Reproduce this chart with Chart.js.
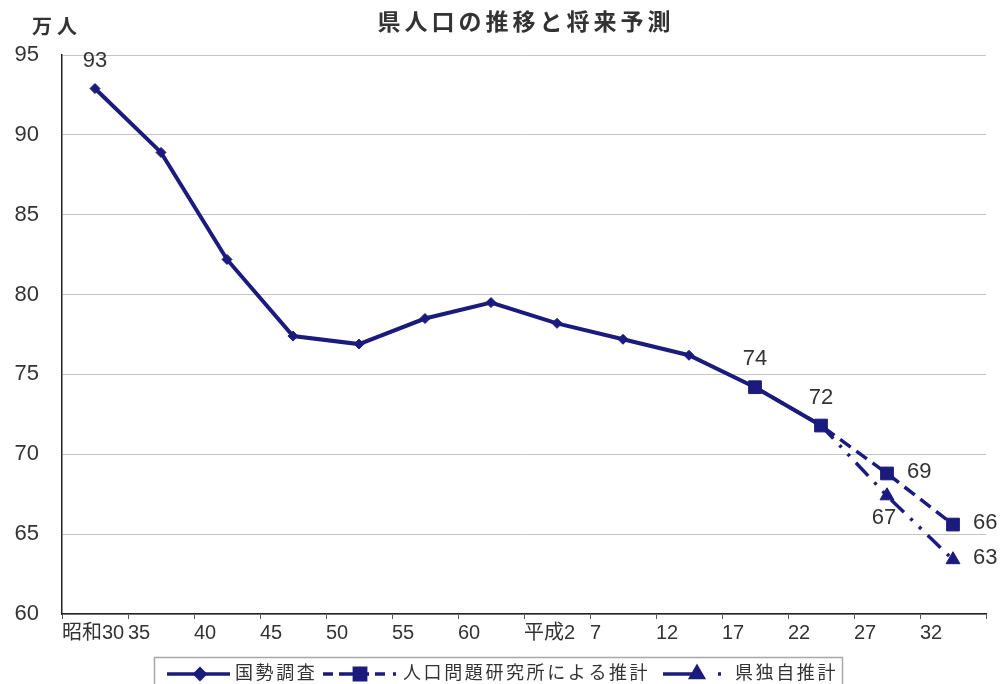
<!DOCTYPE html>
<html lang="ja">
<head>
<meta charset="utf-8">
<title>県人口の推移と将来予測</title>
<script src="https://cdn.jsdelivr.net/npm/chart.js@4.4.1/dist/chart.umd.min.js"></script>
<style>
    html, body { margin: 0; padding: 0; background: #fff; }
    #wrap { width: 1004px; height: 684px; }
</style>
</head>
<body>
<div id="wrap"><canvas id="popChart"></canvas></div>
<script>
// 年次ラベル（昭和30年〜平成32年）
const years = ['昭和30', '35', '40', '45', '50', '55', '60', '平成2', '7', '12', '17', '22', '27', '32'];

// 国勢調査（万人）
const censusValues = [92.9, 88.9, 82.2, 77.4, 76.9, 78.5, 79.5, 78.2, 77.2, 76.2, 74.2, 71.8, null, null];
// 人口問題研究所による推計
const ipssValues = [null, null, null, null, null, null, null, null, null, null, 74.2, 71.8, 68.8, 65.6];
// 県独自推計
const prefValues = [null, null, null, null, null, null, null, null, null, null, null, 71.8, 67.4, 63.4];

const yMin = 60;
const yMax = 95;
const yStep = 5;

const seriesNames = ['国勢調査', '人口問題研究所による推計', '県独自推計'];

// どの点に数値を出すか
const labelPoints = [
    { dataset: 0, index: 0, place: 'above' },
    { dataset: 1, index: 10, place: 'above' },
    { dataset: 1, index: 11, place: 'above' },
    { dataset: 1, index: 12, place: 'right' },
    { dataset: 1, index: 13, place: 'right' },
    { dataset: 2, index: 12, place: 'below' },
    { dataset: 2, index: 13, place: 'right' }
];

const NAVY = '#1b1b7d';
const TEXT = '#333333';
const FONT = '"Liberation Sans", Arial, "Noto Sans CJK JP", sans-serif';
const DASH_IPSS = [13, 7];
const DASH_PREF = [18, 9, 3, 9, 3, 9];

// 数値ラベル・単位・タイトル・凡例
const extrasPlugin = {
    id: 'extras',
    afterDatasetsDraw(chart) {
        const ctx = chart.ctx;
        ctx.save();
        ctx.fillStyle = TEXT;

        // 数値ラベル
        ctx.font = '22px ' + FONT;
        ctx.textBaseline = 'middle';
        labelPoints.forEach(lp => {
            const pt = chart.getDatasetMeta(lp.dataset).data[lp.index];
            const value = chart.data.datasets[lp.dataset].data[lp.index];
            const text = String(Math.round(value));
            if (lp.place === 'above') {
                ctx.textAlign = 'center';
                ctx.fillText(text, pt.x, pt.y - 28);
            } else if (lp.place === 'below') {
                ctx.textAlign = 'center';
                ctx.fillText(text, pt.x - 3, pt.y + 22);
            } else {
                ctx.textAlign = 'left';
                ctx.fillText(text, pt.x + 20, pt.y - 2);
            }
        });
        ctx.restore();
    },
    afterDraw(chart) {
        const ctx = chart.ctx;
        const area = chart.chartArea;
        ctx.save();
        ctx.fillStyle = TEXT;
        ctx.textBaseline = 'middle';

        // 単位
        ctx.font = 'bold 20px ' + FONT;
        ctx.textAlign = 'left';
        ctx.letterSpacing = '5px';
        ctx.fillText('万人', 32, 28);

        // タイトル
        ctx.font = 'bold 23px ' + FONT;
        ctx.letterSpacing = '4px';
        ctx.textAlign = 'center';
        ctx.fillText('県人口の推移と将来予測', (area.left + area.right) / 2 + 2, 24);

        // 凡例
        const top = 657;
        ctx.letterSpacing = '0px';
        ctx.strokeStyle = '#a8a8a8';
        ctx.lineWidth = 1.5;
        ctx.strokeRect(154.5, top + 0.5, 688, 40);

        const ly = 674;
        ctx.font = '18px ' + FONT;
        ctx.letterSpacing = '2.6px';
        ctx.textAlign = 'left';

        drawSample(ctx, 167, 230, 200, ly, [], 'rectRot', 5);
        ctx.fillText(seriesNames[0], 235, ly);

        drawSample(ctx, 323, 397, 360, ly, [10, 6, 30, 6, 10, 8, 3], 'rect', 8);
        ctx.fillText(seriesNames[1], 403, ly);

        drawSample(ctx, 663, 722, 697, ly, [38, 17, 3, 20], 'triangle', 7);
        ctx.fillText(seriesNames[2], 735, ly);

        ctx.restore();
    }
};

function drawSample(ctx, x1, x2, mx, y, dash, style, radius) {
    ctx.save();
    ctx.strokeStyle = NAVY;
    ctx.fillStyle = NAVY;
    ctx.lineWidth = 3.5;
    ctx.setLineDash(dash);
    ctx.beginPath();
    ctx.moveTo(x1, y);
    ctx.lineTo(x2, y);
    ctx.stroke();
    ctx.setLineDash([]);
    Chart.helpers.drawPoint(ctx, { pointStyle: style, radius: radius, borderWidth: 1 }, mx, y);
    ctx.fill();
    ctx.restore();
}

document.addEventListener('DOMContentLoaded', () => {
    const ctx = document.getElementById('popChart');

    new Chart(ctx, {
        type: 'line',
        data: {
            labels: years,
            datasets: [
                {
                    label: seriesNames[0],
                    data: censusValues,
                    borderColor: NAVY,
                    backgroundColor: NAVY,
                    borderWidth: 4,
                    pointStyle: 'rectRot',
                    pointRadius: 5,
                    pointBorderWidth: 1,
                    tension: 0
                },
                {
                    label: seriesNames[1],
                    data: ipssValues,
                    borderColor: NAVY,
                    backgroundColor: NAVY,
                    borderWidth: 3.5,
                    borderDash: DASH_IPSS,
                    pointStyle: 'rect',
                    pointRadius: 9,
                    pointBorderWidth: 1,
                    tension: 0
                },
                {
                    label: seriesNames[2],
                    data: prefValues,
                    borderColor: NAVY,
                    backgroundColor: NAVY,
                    borderWidth: 3.5,
                    borderDash: DASH_PREF,
                    pointStyle: 'triangle',
                    pointRadius: c => c.dataIndex === 11 ? 0 : 8,
                    pointBorderWidth: 1,
                    tension: 0
                }
            ]
        },
        options: {
            responsive: true,
            maintainAspectRatio: false,
            animation: false,
            spanGaps: false,
            layout: {
                padding: { top: 55, right: 18, bottom: 30, left: 0 }
            },
            plugins: {
                legend: { display: false },
                title: { display: false },
                tooltip: { enabled: false }
            },
            scales: {
                x: {
                    type: 'category',
                    offset: true,
                    afterFit: scale => { scale.height = 40; },
                    grid: {
                        offset: true,
                        drawOnChartArea: false,
                        drawTicks: true,
                        tickLength: 5,
                        color: '#555'
                    },
                    border: { color: '#222', width: 1.5 },
                    ticks: {
                        autoSkip: false,
                        maxRotation: 0,
                        minRotation: 0,
                        align: 'start',
                        labelOffset: -33,
                        padding: 2,
                        color: TEXT,
                        font: { family: FONT, size: 20 }
                    }
                },
                y: {
                    min: yMin,
                    max: yMax,
                    afterFit: scale => { scale.width = 62; },
                    grid: {
                        color: '#c4c4c4',
                        lineWidth: 1,
                        drawTicks: false
                    },
                    border: { color: '#222', width: 1.5 },
                    ticks: {
                        stepSize: yStep,
                        padding: 23,
                        color: TEXT,
                        font: { family: FONT, size: 22 }
                    }
                }
            }
        },
        plugins: [extrasPlugin]
    });
});
</script>
</body>
</html>
